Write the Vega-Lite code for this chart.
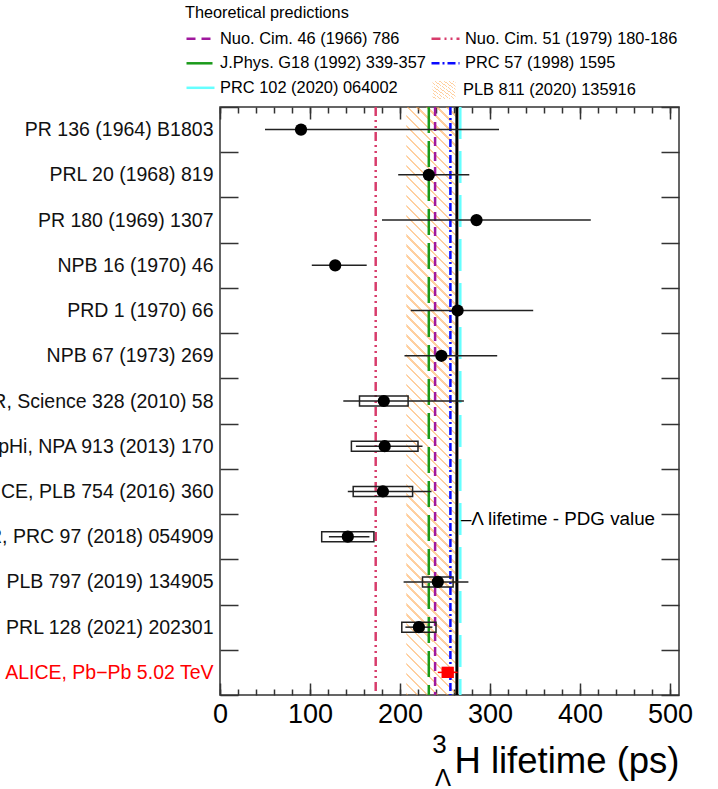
{
  "$schema": "https://vega.github.io/schema/vega-lite/v6.json",
  "width": 459,
  "height": 588,
  "autosize": {"type": "none"},
  "padding": {"left": 220, "top": 107, "right": 39, "bottom": 94},
  "background": "white",
  "config": {
    "font": "Liberation Sans",
    "view": {"stroke": "#333", "strokeWidth": 1.5},
    "axis": {"grid": false, "tickColor": "#333", "tickWidth": 1.5, "titleFontWeight": "normal", "titleColor": "black", "labelColor": "black", "labelFont": "Liberation Sans", "titleFont": "Liberation Sans"},
    "legend": {
      "orient": "none", "columns": 2,
      "titleFontSize": 16.3, "titleFontWeight": "normal", "titleColor": "black", "titlePadding": 2,
      "labelFontSize": 16.4, "labelColor": "black", "labelLimit": 500, "labelOffset": 4,
      "symbolType": "stroke", "symbolSize": 784, "symbolStrokeWidth": 2.5,
      "columnPadding": 0, "rowPadding": 0.5
    }
  },
  "datasets": {
    "exp": [
      {"exp": "PR 136 (1964) B1803", "val": 90, "slo": 50, "shi": 310},
      {"exp": "PRL 20 (1968) 819", "val": 232, "slo": 198, "shi": 277},
      {"exp": "PR 180 (1969) 1307", "val": 285, "slo": 180, "shi": 412},
      {"exp": "NPB 16 (1970) 46", "val": 128, "slo": 102, "shi": 163},
      {"exp": "PRD 1 (1970) 66", "val": 264, "slo": 212, "shi": 348},
      {"exp": "NPB 67 (1973) 269", "val": 246, "slo": 205, "shi": 308},
      {"exp": "STAR, Science 328 (2010) 58", "val": 182, "slo": 137, "shi": 271, "ylo": 155, "yhi": 209},
      {"exp": "HypHi, NPA 913 (2013) 170", "val": 183, "slo": 151, "shi": 225, "ylo": 146, "yhi": 220},
      {"exp": "ALICE, PLB 754 (2016) 360", "val": 181, "slo": 142, "shi": 235, "ylo": 148, "yhi": 214},
      {"exp": "STAR, PRC 97 (2018) 054909", "val": 142, "slo": 121, "shi": 166, "ylo": 113, "yhi": 171},
      {"exp": "ALICE, PLB 797 (2019) 134905", "val": 242, "slo": 204, "shi": 276, "ylo": 225, "yhi": 259},
      {"exp": "STAR, PRL 128 (2021) 202301", "val": 221, "slo": 206, "shi": 236, "ylo": 202, "yhi": 240},
      {"exp": "ALICE, Pb−Pb 5.02 TeV", "val": 253, "slo": 242, "shi": 264, "ylo": 247, "yhi": 259}
    ],
    "theory": [
      {"name": "Nuo. Cim. 46 (1966) 786", "val": 239},
      {"name": "Nuo. Cim. 51 (1979) 180-186", "val": 173},
      {"name": "J.Phys. G18 (1992) 339-357", "val": 232},
      {"name": "PRC 57 (1998) 1595", "val": 256},
      {"name": "PRC 102 (2020) 064002", "val": 267}
    ],
    "band": [{"model": "PLB 811 (2020) 135916", "lo": 207, "hi": 262}],
    "pdg": [{"label": "–Λ lifetime - PDG value", "val": 263.2, "row": "ALICE, PLB 754 (2016) 360"}]
  },
  "resolve": {"axis": {"x": "independent", "y": "independent"}},
  "layer": [
    {
      "data": {"name": "band"},
      "mark": {
        "type": "rect",
        "fill": {
          "gradient": "linear", "x1": 0, "y1": 1, "x2": 0.0906, "y2": -0.0766,
          "stops": [
            {"offset": 0, "color": "rgba(255,160,64,0.5)"}, {"offset": 0.003906, "color": "rgba(255,160,64,0.5)"}, {"offset": 0.003906, "color": "rgba(255,255,255,0)"}, {"offset": 0.015625, "color": "rgba(255,255,255,0)"},
            {"offset": 0.015625, "color": "rgba(255,160,64,0.5)"}, {"offset": 0.019531, "color": "rgba(255,160,64,0.5)"}, {"offset": 0.019531, "color": "rgba(255,255,255,0)"}, {"offset": 0.03125, "color": "rgba(255,255,255,0)"},
            {"offset": 0.03125, "color": "rgba(255,160,64,0.5)"}, {"offset": 0.035156, "color": "rgba(255,160,64,0.5)"}, {"offset": 0.035156, "color": "rgba(255,255,255,0)"}, {"offset": 0.046875, "color": "rgba(255,255,255,0)"},
            {"offset": 0.046875, "color": "rgba(255,160,64,0.5)"}, {"offset": 0.050781, "color": "rgba(255,160,64,0.5)"}, {"offset": 0.050781, "color": "rgba(255,255,255,0)"}, {"offset": 0.0625, "color": "rgba(255,255,255,0)"},
            {"offset": 0.0625, "color": "rgba(255,160,64,0.5)"}, {"offset": 0.066406, "color": "rgba(255,160,64,0.5)"}, {"offset": 0.066406, "color": "rgba(255,255,255,0)"}, {"offset": 0.078125, "color": "rgba(255,255,255,0)"},
            {"offset": 0.078125, "color": "rgba(255,160,64,0.5)"}, {"offset": 0.082031, "color": "rgba(255,160,64,0.5)"}, {"offset": 0.082031, "color": "rgba(255,255,255,0)"}, {"offset": 0.09375, "color": "rgba(255,255,255,0)"},
            {"offset": 0.09375, "color": "rgba(255,160,64,0.5)"}, {"offset": 0.097656, "color": "rgba(255,160,64,0.5)"}, {"offset": 0.097656, "color": "rgba(255,255,255,0)"}, {"offset": 0.109375, "color": "rgba(255,255,255,0)"},
            {"offset": 0.109375, "color": "rgba(255,160,64,0.5)"}, {"offset": 0.113281, "color": "rgba(255,160,64,0.5)"}, {"offset": 0.113281, "color": "rgba(255,255,255,0)"}, {"offset": 0.125, "color": "rgba(255,255,255,0)"},
            {"offset": 0.125, "color": "rgba(255,160,64,0.5)"}, {"offset": 0.128906, "color": "rgba(255,160,64,0.5)"}, {"offset": 0.128906, "color": "rgba(255,255,255,0)"}, {"offset": 0.140625, "color": "rgba(255,255,255,0)"},
            {"offset": 0.140625, "color": "rgba(255,160,64,0.5)"}, {"offset": 0.144531, "color": "rgba(255,160,64,0.5)"}, {"offset": 0.144531, "color": "rgba(255,255,255,0)"}, {"offset": 0.15625, "color": "rgba(255,255,255,0)"},
            {"offset": 0.15625, "color": "rgba(255,160,64,0.5)"}, {"offset": 0.160156, "color": "rgba(255,160,64,0.5)"}, {"offset": 0.160156, "color": "rgba(255,255,255,0)"}, {"offset": 0.171875, "color": "rgba(255,255,255,0)"},
            {"offset": 0.171875, "color": "rgba(255,160,64,0.5)"}, {"offset": 0.175781, "color": "rgba(255,160,64,0.5)"}, {"offset": 0.175781, "color": "rgba(255,255,255,0)"}, {"offset": 0.1875, "color": "rgba(255,255,255,0)"},
            {"offset": 0.1875, "color": "rgba(255,160,64,0.5)"}, {"offset": 0.191406, "color": "rgba(255,160,64,0.5)"}, {"offset": 0.191406, "color": "rgba(255,255,255,0)"}, {"offset": 0.203125, "color": "rgba(255,255,255,0)"},
            {"offset": 0.203125, "color": "rgba(255,160,64,0.5)"}, {"offset": 0.207031, "color": "rgba(255,160,64,0.5)"}, {"offset": 0.207031, "color": "rgba(255,255,255,0)"}, {"offset": 0.21875, "color": "rgba(255,255,255,0)"},
            {"offset": 0.21875, "color": "rgba(255,160,64,0.5)"}, {"offset": 0.222656, "color": "rgba(255,160,64,0.5)"}, {"offset": 0.222656, "color": "rgba(255,255,255,0)"}, {"offset": 0.234375, "color": "rgba(255,255,255,0)"},
            {"offset": 0.234375, "color": "rgba(255,160,64,0.5)"}, {"offset": 0.238281, "color": "rgba(255,160,64,0.5)"}, {"offset": 0.238281, "color": "rgba(255,255,255,0)"}, {"offset": 0.25, "color": "rgba(255,255,255,0)"},
            {"offset": 0.25, "color": "rgba(255,160,64,0.5)"}, {"offset": 0.253906, "color": "rgba(255,160,64,0.5)"}, {"offset": 0.253906, "color": "rgba(255,255,255,0)"}, {"offset": 0.265625, "color": "rgba(255,255,255,0)"},
            {"offset": 0.265625, "color": "rgba(255,160,64,0.5)"}, {"offset": 0.269531, "color": "rgba(255,160,64,0.5)"}, {"offset": 0.269531, "color": "rgba(255,255,255,0)"}, {"offset": 0.28125, "color": "rgba(255,255,255,0)"},
            {"offset": 0.28125, "color": "rgba(255,160,64,0.5)"}, {"offset": 0.285156, "color": "rgba(255,160,64,0.5)"}, {"offset": 0.285156, "color": "rgba(255,255,255,0)"}, {"offset": 0.296875, "color": "rgba(255,255,255,0)"},
            {"offset": 0.296875, "color": "rgba(255,160,64,0.5)"}, {"offset": 0.300781, "color": "rgba(255,160,64,0.5)"}, {"offset": 0.300781, "color": "rgba(255,255,255,0)"}, {"offset": 0.3125, "color": "rgba(255,255,255,0)"},
            {"offset": 0.3125, "color": "rgba(255,160,64,0.5)"}, {"offset": 0.316406, "color": "rgba(255,160,64,0.5)"}, {"offset": 0.316406, "color": "rgba(255,255,255,0)"}, {"offset": 0.328125, "color": "rgba(255,255,255,0)"},
            {"offset": 0.328125, "color": "rgba(255,160,64,0.5)"}, {"offset": 0.332031, "color": "rgba(255,160,64,0.5)"}, {"offset": 0.332031, "color": "rgba(255,255,255,0)"}, {"offset": 0.34375, "color": "rgba(255,255,255,0)"},
            {"offset": 0.34375, "color": "rgba(255,160,64,0.5)"}, {"offset": 0.347656, "color": "rgba(255,160,64,0.5)"}, {"offset": 0.347656, "color": "rgba(255,255,255,0)"}, {"offset": 0.359375, "color": "rgba(255,255,255,0)"},
            {"offset": 0.359375, "color": "rgba(255,160,64,0.5)"}, {"offset": 0.363281, "color": "rgba(255,160,64,0.5)"}, {"offset": 0.363281, "color": "rgba(255,255,255,0)"}, {"offset": 0.375, "color": "rgba(255,255,255,0)"},
            {"offset": 0.375, "color": "rgba(255,160,64,0.5)"}, {"offset": 0.378906, "color": "rgba(255,160,64,0.5)"}, {"offset": 0.378906, "color": "rgba(255,255,255,0)"}, {"offset": 0.390625, "color": "rgba(255,255,255,0)"},
            {"offset": 0.390625, "color": "rgba(255,160,64,0.5)"}, {"offset": 0.394531, "color": "rgba(255,160,64,0.5)"}, {"offset": 0.394531, "color": "rgba(255,255,255,0)"}, {"offset": 0.40625, "color": "rgba(255,255,255,0)"},
            {"offset": 0.40625, "color": "rgba(255,160,64,0.5)"}, {"offset": 0.410156, "color": "rgba(255,160,64,0.5)"}, {"offset": 0.410156, "color": "rgba(255,255,255,0)"}, {"offset": 0.421875, "color": "rgba(255,255,255,0)"},
            {"offset": 0.421875, "color": "rgba(255,160,64,0.5)"}, {"offset": 0.425781, "color": "rgba(255,160,64,0.5)"}, {"offset": 0.425781, "color": "rgba(255,255,255,0)"}, {"offset": 0.4375, "color": "rgba(255,255,255,0)"},
            {"offset": 0.4375, "color": "rgba(255,160,64,0.5)"}, {"offset": 0.441406, "color": "rgba(255,160,64,0.5)"}, {"offset": 0.441406, "color": "rgba(255,255,255,0)"}, {"offset": 0.453125, "color": "rgba(255,255,255,0)"},
            {"offset": 0.453125, "color": "rgba(255,160,64,0.5)"}, {"offset": 0.457031, "color": "rgba(255,160,64,0.5)"}, {"offset": 0.457031, "color": "rgba(255,255,255,0)"}, {"offset": 0.46875, "color": "rgba(255,255,255,0)"},
            {"offset": 0.46875, "color": "rgba(255,160,64,0.5)"}, {"offset": 0.472656, "color": "rgba(255,160,64,0.5)"}, {"offset": 0.472656, "color": "rgba(255,255,255,0)"}, {"offset": 0.484375, "color": "rgba(255,255,255,0)"},
            {"offset": 0.484375, "color": "rgba(255,160,64,0.5)"}, {"offset": 0.488281, "color": "rgba(255,160,64,0.5)"}, {"offset": 0.488281, "color": "rgba(255,255,255,0)"}, {"offset": 0.5, "color": "rgba(255,255,255,0)"},
            {"offset": 0.5, "color": "rgba(255,160,64,0.5)"}, {"offset": 0.503906, "color": "rgba(255,160,64,0.5)"}, {"offset": 0.503906, "color": "rgba(255,255,255,0)"}, {"offset": 0.515625, "color": "rgba(255,255,255,0)"},
            {"offset": 0.515625, "color": "rgba(255,160,64,0.5)"}, {"offset": 0.519531, "color": "rgba(255,160,64,0.5)"}, {"offset": 0.519531, "color": "rgba(255,255,255,0)"}, {"offset": 0.53125, "color": "rgba(255,255,255,0)"},
            {"offset": 0.53125, "color": "rgba(255,160,64,0.5)"}, {"offset": 0.535156, "color": "rgba(255,160,64,0.5)"}, {"offset": 0.535156, "color": "rgba(255,255,255,0)"}, {"offset": 0.546875, "color": "rgba(255,255,255,0)"},
            {"offset": 0.546875, "color": "rgba(255,160,64,0.5)"}, {"offset": 0.550781, "color": "rgba(255,160,64,0.5)"}, {"offset": 0.550781, "color": "rgba(255,255,255,0)"}, {"offset": 0.5625, "color": "rgba(255,255,255,0)"},
            {"offset": 0.5625, "color": "rgba(255,160,64,0.5)"}, {"offset": 0.566406, "color": "rgba(255,160,64,0.5)"}, {"offset": 0.566406, "color": "rgba(255,255,255,0)"}, {"offset": 0.578125, "color": "rgba(255,255,255,0)"},
            {"offset": 0.578125, "color": "rgba(255,160,64,0.5)"}, {"offset": 0.582031, "color": "rgba(255,160,64,0.5)"}, {"offset": 0.582031, "color": "rgba(255,255,255,0)"}, {"offset": 0.59375, "color": "rgba(255,255,255,0)"},
            {"offset": 0.59375, "color": "rgba(255,160,64,0.5)"}, {"offset": 0.597656, "color": "rgba(255,160,64,0.5)"}, {"offset": 0.597656, "color": "rgba(255,255,255,0)"}, {"offset": 0.609375, "color": "rgba(255,255,255,0)"},
            {"offset": 0.609375, "color": "rgba(255,160,64,0.5)"}, {"offset": 0.613281, "color": "rgba(255,160,64,0.5)"}, {"offset": 0.613281, "color": "rgba(255,255,255,0)"}, {"offset": 0.625, "color": "rgba(255,255,255,0)"},
            {"offset": 0.625, "color": "rgba(255,160,64,0.5)"}, {"offset": 0.628906, "color": "rgba(255,160,64,0.5)"}, {"offset": 0.628906, "color": "rgba(255,255,255,0)"}, {"offset": 0.640625, "color": "rgba(255,255,255,0)"},
            {"offset": 0.640625, "color": "rgba(255,160,64,0.5)"}, {"offset": 0.644531, "color": "rgba(255,160,64,0.5)"}, {"offset": 0.644531, "color": "rgba(255,255,255,0)"}, {"offset": 0.65625, "color": "rgba(255,255,255,0)"},
            {"offset": 0.65625, "color": "rgba(255,160,64,0.5)"}, {"offset": 0.660156, "color": "rgba(255,160,64,0.5)"}, {"offset": 0.660156, "color": "rgba(255,255,255,0)"}, {"offset": 0.671875, "color": "rgba(255,255,255,0)"},
            {"offset": 0.671875, "color": "rgba(255,160,64,0.5)"}, {"offset": 0.675781, "color": "rgba(255,160,64,0.5)"}, {"offset": 0.675781, "color": "rgba(255,255,255,0)"}, {"offset": 0.6875, "color": "rgba(255,255,255,0)"},
            {"offset": 0.6875, "color": "rgba(255,160,64,0.5)"}, {"offset": 0.691406, "color": "rgba(255,160,64,0.5)"}, {"offset": 0.691406, "color": "rgba(255,255,255,0)"}, {"offset": 0.703125, "color": "rgba(255,255,255,0)"},
            {"offset": 0.703125, "color": "rgba(255,160,64,0.5)"}, {"offset": 0.707031, "color": "rgba(255,160,64,0.5)"}, {"offset": 0.707031, "color": "rgba(255,255,255,0)"}, {"offset": 0.71875, "color": "rgba(255,255,255,0)"},
            {"offset": 0.71875, "color": "rgba(255,160,64,0.5)"}, {"offset": 0.722656, "color": "rgba(255,160,64,0.5)"}, {"offset": 0.722656, "color": "rgba(255,255,255,0)"}, {"offset": 0.734375, "color": "rgba(255,255,255,0)"},
            {"offset": 0.734375, "color": "rgba(255,160,64,0.5)"}, {"offset": 0.738281, "color": "rgba(255,160,64,0.5)"}, {"offset": 0.738281, "color": "rgba(255,255,255,0)"}, {"offset": 0.75, "color": "rgba(255,255,255,0)"},
            {"offset": 0.75, "color": "rgba(255,160,64,0.5)"}, {"offset": 0.753906, "color": "rgba(255,160,64,0.5)"}, {"offset": 0.753906, "color": "rgba(255,255,255,0)"}, {"offset": 0.765625, "color": "rgba(255,255,255,0)"},
            {"offset": 0.765625, "color": "rgba(255,160,64,0.5)"}, {"offset": 0.769531, "color": "rgba(255,160,64,0.5)"}, {"offset": 0.769531, "color": "rgba(255,255,255,0)"}, {"offset": 0.78125, "color": "rgba(255,255,255,0)"},
            {"offset": 0.78125, "color": "rgba(255,160,64,0.5)"}, {"offset": 0.785156, "color": "rgba(255,160,64,0.5)"}, {"offset": 0.785156, "color": "rgba(255,255,255,0)"}, {"offset": 0.796875, "color": "rgba(255,255,255,0)"},
            {"offset": 0.796875, "color": "rgba(255,160,64,0.5)"}, {"offset": 0.800781, "color": "rgba(255,160,64,0.5)"}, {"offset": 0.800781, "color": "rgba(255,255,255,0)"}, {"offset": 0.8125, "color": "rgba(255,255,255,0)"},
            {"offset": 0.8125, "color": "rgba(255,160,64,0.5)"}, {"offset": 0.816406, "color": "rgba(255,160,64,0.5)"}, {"offset": 0.816406, "color": "rgba(255,255,255,0)"}, {"offset": 0.828125, "color": "rgba(255,255,255,0)"},
            {"offset": 0.828125, "color": "rgba(255,160,64,0.5)"}, {"offset": 0.832031, "color": "rgba(255,160,64,0.5)"}, {"offset": 0.832031, "color": "rgba(255,255,255,0)"}, {"offset": 0.84375, "color": "rgba(255,255,255,0)"},
            {"offset": 0.84375, "color": "rgba(255,160,64,0.5)"}, {"offset": 0.847656, "color": "rgba(255,160,64,0.5)"}, {"offset": 0.847656, "color": "rgba(255,255,255,0)"}, {"offset": 0.859375, "color": "rgba(255,255,255,0)"},
            {"offset": 0.859375, "color": "rgba(255,160,64,0.5)"}, {"offset": 0.863281, "color": "rgba(255,160,64,0.5)"}, {"offset": 0.863281, "color": "rgba(255,255,255,0)"}, {"offset": 0.875, "color": "rgba(255,255,255,0)"},
            {"offset": 0.875, "color": "rgba(255,160,64,0.5)"}, {"offset": 0.878906, "color": "rgba(255,160,64,0.5)"}, {"offset": 0.878906, "color": "rgba(255,255,255,0)"}, {"offset": 0.890625, "color": "rgba(255,255,255,0)"},
            {"offset": 0.890625, "color": "rgba(255,160,64,0.5)"}, {"offset": 0.894531, "color": "rgba(255,160,64,0.5)"}, {"offset": 0.894531, "color": "rgba(255,255,255,0)"}, {"offset": 0.90625, "color": "rgba(255,255,255,0)"},
            {"offset": 0.90625, "color": "rgba(255,160,64,0.5)"}, {"offset": 0.910156, "color": "rgba(255,160,64,0.5)"}, {"offset": 0.910156, "color": "rgba(255,255,255,0)"}, {"offset": 0.921875, "color": "rgba(255,255,255,0)"},
            {"offset": 0.921875, "color": "rgba(255,160,64,0.5)"}, {"offset": 0.925781, "color": "rgba(255,160,64,0.5)"}, {"offset": 0.925781, "color": "rgba(255,255,255,0)"}, {"offset": 0.9375, "color": "rgba(255,255,255,0)"},
            {"offset": 0.9375, "color": "rgba(255,160,64,0.5)"}, {"offset": 0.941406, "color": "rgba(255,160,64,0.5)"}, {"offset": 0.941406, "color": "rgba(255,255,255,0)"}, {"offset": 0.953125, "color": "rgba(255,255,255,0)"},
            {"offset": 0.953125, "color": "rgba(255,160,64,0.5)"}, {"offset": 0.957031, "color": "rgba(255,160,64,0.5)"}, {"offset": 0.957031, "color": "rgba(255,255,255,0)"}, {"offset": 0.96875, "color": "rgba(255,255,255,0)"},
            {"offset": 0.96875, "color": "rgba(255,160,64,0.5)"}, {"offset": 0.972656, "color": "rgba(255,160,64,0.5)"}, {"offset": 0.972656, "color": "rgba(255,255,255,0)"}, {"offset": 0.984375, "color": "rgba(255,255,255,0)"},
            {"offset": 0.984375, "color": "rgba(255,160,64,0.5)"}, {"offset": 0.988281, "color": "rgba(255,160,64,0.5)"}, {"offset": 0.988281, "color": "rgba(255,255,255,0)"}, {"offset": 1, "color": "rgba(255,255,255,0)"}
          ]
        }
      },
      "encoding": {
        "x": {
          "field": "lo", "type": "quantitative", "scale": {"domain": [0, 510], "nice": false, "zero": false},
          "axis": {
            "orient": "top", "domain": false, "labels": false, "title": null,
            "values": [0, 20, 40, 60, 80, 100, 120, 140, 160, 180, 200, 220, 240, 260, 280, 300, 320, 340, 360, 380, 400, 420, 440, 460, 480, 500],
            "tickSize": -6
          }
        },
        "x2": {"field": "hi"},
        "opacity": {
          "field": "model", "type": "nominal",
          "scale": {"range": [1]},
          "legend": {
            "title": null, "orient": "none", "legendX": 209, "legendY": -32, "columns": 1,
            "symbolType": "M-0.82,-0.64H0.82V0.64H-0.82Z", "symbolSize": 784,
            "symbolFillColor": "#ffedd9", "symbolStrokeColor": "#ffa040", "symbolDash": [3, 2], "symbolStrokeWidth": 1.5,
            "labelFontSize": 16.4, "labelOffset": 4
          }
        }
      }
    },
    {
      "data": {"name": "theory"},
      "mark": {"type": "rule", "strokeWidth": 2.5},
      "encoding": {
        "x": {"field": "val", "type": "quantitative", "axis": null},
        "color": {
          "field": "name", "type": "nominal",
          "scale": {
            "domain": ["Nuo. Cim. 46 (1966) 786", "J.Phys. G18 (1992) 339-357", "PRC 102 (2020) 064002", "Nuo. Cim. 51 (1979) 180-186", "PRC 57 (1998) 1595"],
            "range": ["#a0189e", "#1a9a1a", "#66ffff", "#d83c6c", "#0a0aff"]
          },
          "legend": {"title": "Theoretical predictions", "legendX": -35, "legendY": -102}
        },
        "strokeDash": {
          "field": "name", "type": "nominal",
          "scale": {
            "domain": ["Nuo. Cim. 46 (1966) 786", "J.Phys. G18 (1992) 339-357", "PRC 102 (2020) 064002", "Nuo. Cim. 51 (1979) 180-186", "PRC 57 (1998) 1595"],
            "range": [[9, 6], [26, 8], [32, 12], [9, 4, 2, 4, 2, 4], [8, 3, 2, 3]]
          },
          "legend": {"title": "Theoretical predictions", "legendX": -35, "legendY": -102}
        }
      }
    },
    {
      "data": {"name": "pdg"},
      "mark": {"type": "rule", "color": "black", "strokeWidth": 3},
      "encoding": {
        "x": {"field": "val", "type": "quantitative", "axis": null}
      }
    },
    {
      "data": {"name": "exp"},
      "mark": {"type": "rule", "strokeWidth": 1.5},
      "encoding": {
        "x": {
          "field": "slo", "type": "quantitative",
          "axis": {
            "orient": "bottom", "domain": false,
            "values": [0, 100, 200, 300, 400, 500],
            "tickSize": -12,
            "labelFontSize": 27, "labelPadding": 18, "labelFlush": false, "labelOverlap": false,
            "title": "H lifetime (ps)", "titleFontSize": 36.5, "titleX": 459, "titleY": 77,
            "titleAlign": "right", "titleBaseline": "alphabetic", "titleAngle": 0
          }
        },
        "x2": {"field": "shi"},
        "y": {
          "field": "exp", "type": "nominal",
          "scale": {
            "type": "band", "paddingInner": 0, "paddingOuter": 0,
            "domain": ["PR 136 (1964) B1803", "PRL 20 (1968) 819", "PR 180 (1969) 1307", "NPB 16 (1970) 46", "PRD 1 (1970) 66", "NPB 67 (1973) 269", "STAR, Science 328 (2010) 58", "HypHi, NPA 913 (2013) 170", "ALICE, PLB 754 (2016) 360", "STAR, PRC 97 (2018) 054909", "ALICE, PLB 797 (2019) 134905", "STAR, PRL 128 (2021) 202301", "ALICE, Pb−Pb 5.02 TeV"]
          },
          "axis": {
            "orient": "left", "domain": false, "title": null, "tickBand": "extent",
            "tickSize": -18, "labelPadding": 25, "labelFontSize": 19.5, "labelLimit": 600,
            "labelColor": {"condition": {"test": "datum.value === 'ALICE, Pb−Pb 5.02 TeV'", "value": "#ff0000"}, "value": "#111"}
          }
        },
        "color": {"condition": {"test": "datum.exp === 'ALICE, Pb−Pb 5.02 TeV'", "value": "#ff0000"}, "value": "#222"}
      }
    },
    {
      "data": {"name": "exp"},
      "transform": [{"filter": "isValid(datum.ylo)"}],
      "mark": {"type": "rect", "fill": "transparent", "strokeWidth": 1.5, "height": {"band": 0.22}},
      "encoding": {
        "x": {
          "field": "ylo", "type": "quantitative",
          "axis": {
            "orient": "bottom", "domain": false, "labels": false,
            "values": [0, 20, 40, 60, 80, 100, 120, 140, 160, 180, 200, 220, 240, 260, 280, 300, 320, 340, 360, 380, 400, 420, 440, 460, 480, 500],
            "tickSize": -6,
            "title": "Λ", "titleFontSize": 24, "titleX": 222.5, "titleY": 90,
            "titleAlign": "center", "titleBaseline": "alphabetic", "titleAngle": 0
          }
        },
        "x2": {"field": "yhi"},
        "y": {"field": "exp", "type": "nominal", "axis": null},
        "stroke": {"condition": {"test": "datum.exp === 'ALICE, Pb−Pb 5.02 TeV'", "value": "#ff0000"}, "value": "#222"}
      }
    },
    {
      "data": {"name": "exp"},
      "mark": {"type": "point", "filled": true, "opacity": 1},
      "encoding": {
        "x": {
          "field": "val", "type": "quantitative",
          "axis": {
            "orient": "top", "domain": false, "labels": false,
            "values": [0, 100, 200, 300, 400, 500],
            "tickSize": -12,
            "title": "3", "titleFontSize": 26, "titleX": 219, "titleY": 645,
            "titleAlign": "center", "titleBaseline": "alphabetic", "titleAngle": 0
          }
        },
        "y": {
          "field": "exp", "type": "nominal",
          "axis": {"orient": "right", "domain": false, "labels": false, "title": null, "tickBand": "extent", "tickSize": -18}
        },
        "shape": {"condition": {"test": "datum.exp === 'ALICE, Pb−Pb 5.02 TeV'", "value": "square"}, "value": "circle"},
        "size": {"condition": {"test": "datum.exp === 'ALICE, Pb−Pb 5.02 TeV'", "value": 120}, "value": 150},
        "color": {"condition": {"test": "datum.exp === 'ALICE, Pb−Pb 5.02 TeV'", "value": "#ff0000"}, "value": "#000"}
      }
    },
    {
      "data": {"name": "pdg"},
      "mark": {"type": "text", "align": "left", "baseline": "middle", "dx": 4, "dy": 5, "fontSize": 18.8, "font": "Liberation Sans", "color": "black"},
      "encoding": {
        "x": {"field": "val", "type": "quantitative", "axis": null},
        "y": {"field": "row", "type": "nominal", "bandPosition": 1, "axis": null},
        "text": {"field": "label"}
      }
    }
  ]
}
